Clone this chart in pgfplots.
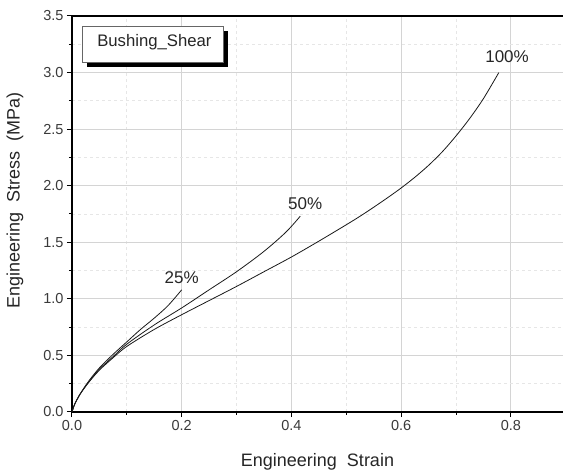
\documentclass[border=0pt]{standalone}
\usepackage{pgfplots}
\pgfplotsset{compat=1.18}
\usepackage{fontspec}
\setmainfont{Liberation Sans}
\definecolor{tickgray}{HTML}{3A3A3A}
\definecolor{majgrid}{HTML}{D4D4D4}
\definecolor{mingrid}{HTML}{E6E6E6}

\pgfplotstableread{
x y
0 0
0.005 0.07
0.015 0.16
0.03 0.26
0.05 0.37
0.075 0.48
0.10 0.58
0.15 0.73
0.20 0.86
0.25 0.985
0.30 1.11
0.35 1.24
0.40 1.37
0.45 1.51
0.50 1.655
0.525 1.73
0.55 1.81
0.575 1.893
0.60 1.98
0.625 2.075
0.65 2.18
0.675 2.30
0.70 2.44
0.725 2.595
0.75 2.77
0.778 3.00
}\hundred

\pgfplotstableread{
x y
0 0
0.005 0.07
0.015 0.16
0.03 0.26
0.05 0.38
0.075 0.49
0.10 0.60
0.15 0.77
0.20 0.92
0.25 1.08
0.30 1.24
0.35 1.42
0.39 1.59
0.416 1.73
}\fifty

\pgfplotstableread{
x y
0 0
0.005 0.07
0.015 0.16
0.03 0.27
0.05 0.39
0.075 0.51
0.10 0.62
0.125 0.73
0.15 0.83
0.175 0.94
0.20 1.08
}\quarter

\begin{document}
\begin{tikzpicture}
\begin{axis}[
  scale only axis, width=491pt, height=396pt,
  xmin=0, xmax=0.895, ymin=0, ymax=3.5,
  axis x line*=bottom, axis y line*=left,
  axis line style={line width=1.4pt, black},
  xtick={0,0.2,...,0.8}, minor xtick={0.1,0.3,0.5,0.7},
  ytick={0,0.5,...,3.5}, minor ytick={0.25,0.75,...,3.25},
  tick align=outside,
  major tick length=5pt, minor tick length=3pt,
  every tick/.style={black, line width=1pt},
  grid=both,
  major grid style={majgrid, line width=0.8pt},
  minor grid style={mingrid, dashed, line width=0.8pt},
  xticklabel style={/pgf/number format/.cd, fixed, fixed zerofill, precision=1},
  yticklabel style={/pgf/number format/.cd, fixed, fixed zerofill, precision=1},
  /pgf/number format/assume math mode=true,
  ticklabel style={font=\fontsize{14.5}{17}\selectfont, text=tickgray},
  xlabel={Engineering\ \ Strain},
  ylabel={Engineering\ \ Stress\ \ (MPa)},
  label style={font=\fontsize{18}{20}\selectfont, text=black!85, inner sep=0pt},
  xlabel style={at={(rel axis cs:0.5,0)}, yshift=-50pt, anchor=center},
  ylabel style={at={(rel axis cs:0,0.533)}, yshift=57pt, anchor=center},
  clip=false,
]
\addplot[black!90, line width=0.8pt, smooth] table {\hundred};
\addplot[black!90, line width=0.8pt, smooth] table {\fifty};
\addplot[black!90, line width=0.8pt, smooth] table {\quarter};
\node[font=\fontsize{17}{19}\selectfont, text=black!85] at (axis cs:0.2,1.19) {25\%};
\node[font=\fontsize{17}{19}\selectfont, text=black!85] at (axis cs:0.425,1.84) {50\%};
\node[font=\fontsize{17}{19}\selectfont, text=black!85] at (axis cs:0.793,3.14) {100\%};
\draw[line width=1.4pt] (rel axis cs:0,1) -- (rel axis cs:1,1);
\node[fill=black, minimum width=141pt, minimum height=36pt] at ([shift={(4.5pt,-4.5pt)}]axis cs:0.1478,3.25) {};
\node[draw=black!60, fill=white, minimum width=141pt, minimum height=36pt] at (axis cs:0.1478,3.25) {};
\node[font=\fontsize{16.7}{19}\selectfont, anchor=west, text=black!85, inner sep=0pt] at ([xshift=-56pt]axis cs:0.1478,3.265) {Bushing\_Shear};
\coordinate (ll) at ([shift={(-72pt,-60pt)}]rel axis cs:0,0);
\coordinate (ur) at ([shift={(0pt,16pt)}]rel axis cs:1,1);
\end{axis}
\pgfresetboundingbox
\path[use as bounding box] (ll) rectangle (ur);
\end{tikzpicture}
\end{document}
